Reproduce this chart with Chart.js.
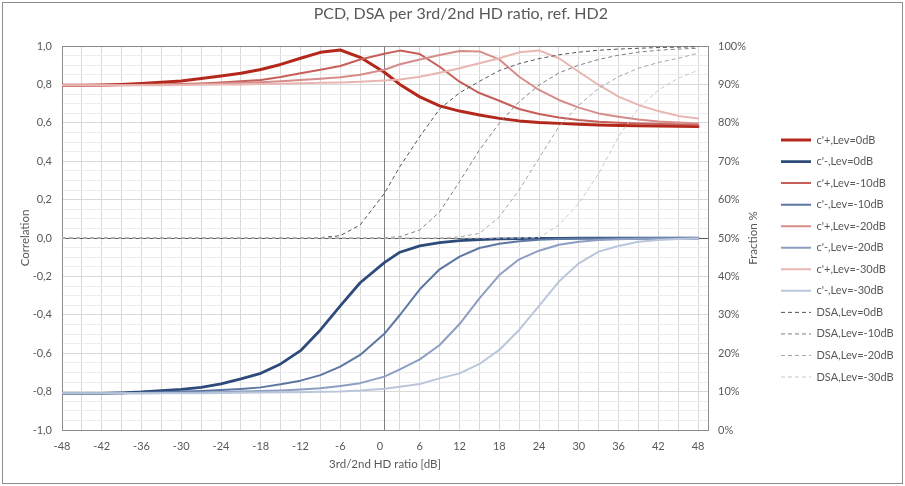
<!DOCTYPE html>
<html><head><meta charset="utf-8">
<script src="https://cdn.jsdelivr.net/npm/chart.js@4.4.1/dist/chart.umd.min.js"></script>
<style>html,body{margin:0;padding:0;background:#fff}#wrap{width:905px;height:486px}</style>
</head><body><div id="wrap"><canvas id="c" width="905" height="486"></canvas></div>
<script>
// ---- data ----
const xValues = [-48,-45,-42,-39,-36,-33,-30,-27,-24,-21,-18,-15,-12,-9,-6,-3,0.65,3,6,9,12,15,18,21,24,27,30,33,36,39,42,45,48];
const xAxisCross = 0.65;
const cPlus0   = [.795,.796,.797,.800,.805,.811,.818,.831,.844,.858,.878,.904,.936,.967,.979,.941,.863,.800,.735,.688,.661,.641,.623,.610,.602,.597,.592,.589,.586,.584,.583,.582,.581];
const cMinus0  = [-.809,-.809,-.809,-.806,-.802,-.795,-.788,-.778,-.760,-.734,-.705,-.656,-.587,-.479,-.354,-.233,-.128,-.074,-.041,-.024,-.014,-.008,-.005,-.003,-.002,-.002,-.001,-.001,-.001,-.001,-.001,-.001,-.001];
const cPlus10  = [.795,.795,.796,.797,.798,.800,.802,.805,.810,.816,.823,.838,.858,.876,.896,.930,.960,.976,.958,.892,.814,.755,.715,.672,.646,.628,.615,.606,.600,.596,.594,.592,.590];
const cMinus10 = [-.809,-.809,-.809,-.808,-.806,-.804,-.800,-.797,-.792,-.786,-.778,-.762,-.743,-.714,-.670,-.609,-.499,-.401,-.267,-.163,-.097,-.052,-.030,-.017,-.009,-.005,-.003,-.002,-.001,-.001,-.001,-.001,-.001];
const cPlus20  = [.795,.795,.795,.796,.797,.798,.800,.802,.805,.808,.811,.816,.823,.829,.837,.850,.876,.905,.930,.953,.974,.972,.930,.840,.771,.719,.679,.649,.632,.617,.607,.601,.597];
const cMinus20 = [-.809,-.809,-.809,-.809,-.808,-.807,-.806,-.805,-.803,-.800,-.797,-.794,-.789,-.782,-.771,-.756,-.722,-.684,-.632,-.557,-.448,-.314,-.193,-.111,-.066,-.035,-.019,-.010,-.006,-.004,-.003,-.002,-.001];
const cPlus30  = [.795,.795,.795,.795,.796,.796,.797,.798,.799,.800,.802,.804,.806,.808,.810,.814,.820,.825,.840,.861,.884,.910,.936,.967,.977,.936,.866,.797,.736,.693,.661,.636,.623];
const cMinus30 = [-.809,-.809,-.809,-.809,-.809,-.809,-.808,-.808,-.807,-.806,-.805,-.804,-.803,-.801,-.799,-.794,-.785,-.775,-.760,-.731,-.705,-.656,-.583,-.479,-.354,-.227,-.132,-.071,-.042,-.020,-.010,-.005,-.003];
const dsa0  = [50,50,50,50,50,50,50,50,50,50,50,50,50,50.1,50.6,53.4,61.6,68.6,76.4,83.6,87.8,90.8,93.6,95.4,96.7,97.7,98.4,98.9,99.2,99.4,99.6,99.7,99.8];
const dsa10 = [50,50,50,50,50,50,50,50,50,50,50,50,50,50,50,50,50.1,50.3,52.1,56.8,64.7,72.9,79.9,85.5,89.8,93.0,95.0,96.5,97.6,98.4,98.9,99.2,99.4];
const dsa20 = [50,50,50,50,50,50,50,50,50,50,50,50,50,50,50,50,50,50,50,50,50.3,51.2,55.5,62.5,70.8,79.0,84.6,89.0,92.0,94.2,95.7,96.8,98.1];
const dsa30 = [50,50,50,50,50,50,50,50,50,50,50,50,50,50,50,50,50,50,50,50,50,50,50,50,50.1,53.4,59.0,66.8,76.4,83.8,88.5,91.6,93.7];
const seriesLabels = ["c'+,Lev=0dB","c'-,Lev=0dB","c'+,Lev=-10dB","c'-,Lev=-10dB","c'+,Lev=-20dB","c'-,Lev=-20dB","c'+,Lev=-30dB","c'-,Lev=-30dB","DSA,Lev=0dB","DSA,Lev=-10dB","DSA,Lev=-20dB","DSA,Lev=-30dB"];
const seriesValues = [cPlus0,cMinus0,cPlus10,cMinus10,cPlus20,cMinus20,cPlus30,cMinus30,dsa0,dsa10,dsa20,dsa30];
const titleText = 'PCD, DSA per 3rd/2nd HD ratio, ref. HD2';
const xTitle = '3rd/2nd HD ratio [dB]';
const yTitle = 'Correlation';
const y1Title = 'Fraction %';

// ---- styles ----
const FONT = 'Lato';
const TXT = '#595959';
const styles = [
  {c:'#B3281B', w:3},
  {c:'#2E4A7B', w:2.75},
  {c:'#C65F59', w:2},
  {c:'#5D77A2', w:2},
  {c:'#D68D89', w:2},
  {c:'#8C9FC2', w:2},
  {c:'#E8B6B3', w:2},
  {c:'#BAC6DB', w:2},
  {c:'#555555', w:1, d:[4,3], ax:'y1'},
  {c:'#7F7F7F', w:1, d:[4,3], ax:'y1'},
  {c:'#A6A6A6', w:1, d:[4,3], ax:'y1'},
  {c:'#C8C8C8', w:1, d:[4,3], ax:'y1'}
];

const datasets = seriesValues.map((vals, i) => ({
  label: seriesLabels[i],
  data: xValues.map((x, k) => ({x: x, y: vals[k]})),
  borderColor: styles[i].c,
  backgroundColor: styles[i].c,
  borderWidth: styles[i].w,
  borderDash: styles[i].d || [],
  borderCapStyle: styles[i].d ? 'butt' : 'round',
  borderJoinStyle: 'round',
  pointRadius: 0,
  pointHoverRadius: 0,
  pointStyle: 'line',
  tension: 0,
  fill: false,
  yAxisID: styles[i].ax || 'y',
  order: -i
}));

const LEG_PAD = 10.55;
const LEG_X = 781;       // x where legend line samples start
const PLOT = {left: 62, right: 708, top: 46, bottom: 430};
const PAD_L = 18;

const decor = {
  id: 'decor',
  beforeDatasetsDraw(chart) {
    const ctx = chart.ctx, a = chart.chartArea;
    ctx.save();
    // vertical axis line where the value axis crosses
    const px = Math.round(chart.scales.x.getPixelForValue(xAxisCross)) + 0.5;
    ctx.strokeStyle = '#808080'; ctx.lineWidth = 1;
    ctx.beginPath(); ctx.moveTo(px, a.top); ctx.lineTo(px, a.bottom); ctx.stroke();
    // plot border
    ctx.strokeStyle = '#8C8C8C';
    ctx.strokeRect(Math.round(a.left) + 0.5, Math.round(a.top) + 0.5, Math.round(a.right - a.left), Math.round(a.bottom - a.top));
    ctx.restore();
  },
  afterDraw(chart) {
    const ctx = chart.ctx;
    ctx.save();
    // secondary axis title, reading bottom-to-top
    ctx.translate(753, (PLOT.top + PLOT.bottom) / 2);
    ctx.rotate(-Math.PI / 2);
    ctx.fillStyle = TXT; ctx.font = '11.5px ' + FONT;
    ctx.textAlign = 'center'; ctx.textBaseline = 'middle';
    ctx.fillText(y1Title, 0, 0);
    ctx.restore();
    // outer chart border
    ctx.save();
    ctx.strokeStyle = '#8C8C8C'; ctx.lineWidth = 1;
    ctx.strokeRect(2.5, 2.5, 900, 481);
    ctx.restore();
  }
};

const isMult = (v, m) => Math.abs(v / m - Math.round(v / m)) < 1e-6;

const chart = new Chart(document.getElementById('c'), {
  type: 'line',
  data: {datasets},
  options: {
    responsive: false,
    animation: false,
    devicePixelRatio: 1,
    layout: {padding: {left: PAD_L, right: 10, top: 0, bottom: 0}},
    plugins: {
      tooltip: {enabled: false},
      title: {
        display: true, text: titleText, color: TXT,
        font: {family: FONT, size: 16, weight: 'normal'},
        padding: {top: 4.4, bottom: 22.4}
      },
      legend: {
        position: 'right',
        align: 'center',
        title: {display: true, text: '', padding: {top: 8, bottom: 8.6}, font: {family: FONT, size: 12}},
        labels: {
          usePointStyle: true, pointStyleWidth: 30, padding: LEG_PAD,
          color: TXT, font: {family: FONT, size: 11},
          generateLabels: (ch) => ch.data.datasets.map((ds, i) => ({
            text: ds.label, fillStyle: ds.borderColor, strokeStyle: ds.borderColor,
            lineWidth: ds.borderWidth, lineDash: ds.borderDash, lineCap: 'butt',
            pointStyle: 'line', hidden: false, datasetIndex: i, fontColor: TXT
          }))
        }
      }
    },
    scales: {
      x: {
        type: 'linear', position: 'bottom', min: -48, max: 49.5,
        ticks: {
          stepSize: 3, includeBounds: false, autoSkip: false, maxRotation: 0,
          padding: 9.4, color: TXT, font: {family: FONT, size: 11},
          callback: (v) => isMult(v, 6) ? String(Math.round(v)) : ''
        },
        grid: {
          drawTicks: false,
          color: (c) => (Math.abs(c.tick.value) < 1e-9) ? 'rgba(0,0,0,0)' : '#D9D9D9'
        },
        border: {display: false},
        title: {display: true, text: xTitle, color: TXT, font: {family: FONT, size: 11.5}, padding: {top: 0, bottom: 14.4}},
        afterFit: (s) => { s.height = 486 - PLOT.bottom; }
      },
      y: {
        type: 'linear', position: 'left', min: -1, max: 1,
        ticks: {
          stepSize: 0.05, autoSkip: false, padding: 10, color: TXT, font: {family: FONT, size: 11},
          callback: (v) => isMult(v, 0.2) ? v.toFixed(1).replace('.', ',').replace('-0,0', '0,0') : ''
        },
        grid: {
          drawTicks: false,
          color: (c) => {
            const v = c.tick.value;
            if (Math.abs(v) < 1e-9) return '#595959';
            if (Math.abs(Math.abs(v) - 1) < 1e-9) return 'rgba(0,0,0,0)';
            return isMult(v, 0.2) ? '#D9D9D9' : '#EDEDED';
          }
        },
        border: {display: false},
        title: {display: true, text: yTitle, color: TXT, font: {family: FONT, size: 11.5}, padding: {top: 0, bottom: 0}},
        afterFit: (s) => { s.width = PLOT.left - PAD_L; }
      },
      y1: {
        type: 'linear', position: 'right', min: 0, max: 100,
        ticks: {
          stepSize: 10, autoSkip: false, padding: 10, color: TXT, font: {family: FONT, size: 11},
          callback: (v) => Math.round(v) + '%'
        },
        grid: {display: false, drawTicks: false},
        border: {display: false},
        afterFit: (s) => { s.width = (LEG_X - LEG_PAD) - PLOT.right; }
      }
    }
  },
  plugins: [decor]
});

// align the legend's left edge so that its line samples start at LEG_X
const err = chart.legend.left - (LEG_X - LEG_PAD);
if (Math.abs(err) > 0.25) {
  chart.config.options.layout.padding.right += err;
  chart.update();
}
</script>
</body></html>
